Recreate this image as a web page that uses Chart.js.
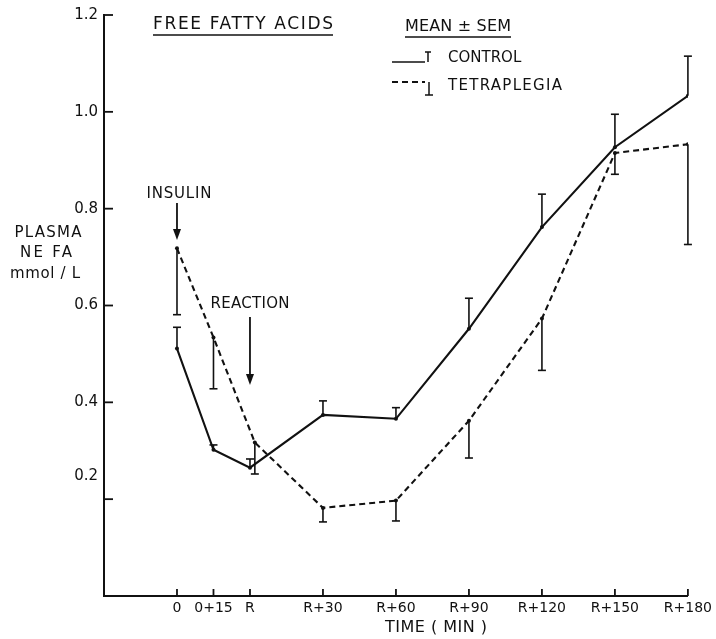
<!DOCTYPE html>
<html>
<head>
<meta charset="utf-8">
<script src="https://cdn.jsdelivr.net/npm/chart.js@4/dist/chart.umd.min.js"></script>
<style>
  html, body { margin: 0; padding: 0; background: #ffffff; }
  #wrap { width: 716px; height: 639px; }
</style>
</head>
<body>
<div id="wrap"><canvas id="c" width="716" height="639"></canvas></div>
<script>
// ---- data ----
const timeLabels   = ['0', '0+15', 'R', 'R+30', 'R+60', 'R+90', 'R+120', 'R+150', 'R+180'];
const timeMinutes  = [0, 15, 30, 60, 90, 120, 150, 180, 210];
const tetraMinutes = [0, 15, 32, 60, 90, 120, 150, 180, 210];
const controlMean  = [0.511, 0.302, 0.265, 0.374, 0.366, 0.552, 0.762, 0.927, 1.033];
const controlSem   = [0.044, 0.010, 0.018, 0.029, 0.023, 0.063, 0.068, 0.068, 0.082];
const tetraMean    = [0.718, 0.534, 0.317, 0.182, 0.197, 0.362, 0.573, 0.915, 0.933];
const tetraSem     = [0.137, 0.106, 0.065, 0.029, 0.042, 0.077, 0.107, 0.044, 0.207];
const yTicks       = [0.2, 0.4, 0.6, 0.8, 1.0, 1.2];
const yTickLabels  = ['0.2', '0.4', '0.6', '0.8', '1.0', '1.2'];

const FONT = "'DejaVu Sans', 'Liberation Sans', Arial, sans-serif";
const INK = '#111111';

const controlPts = timeMinutes.map((t, i) => ({ x: t, y: controlMean[i] }));
const tetraPts   = tetraMinutes.map((t, i) => ({ x: t, y: tetraMean[i] }));

// draws text, adjusting letter spacing so it spans the given width
function txt(ctx, s, x, y, size, align, width) {
  ctx.save();
  ctx.font = size + 'px ' + FONT;
  ctx.fillStyle = INK;
  ctx.textBaseline = 'middle';
  ctx.textAlign = 'left';
  let sp = 0;
  if ('letterSpacing' in ctx) {
    ctx.letterSpacing = '0px';
    const w0 = ctx.measureText(s).width;
    if (width && s.length > 1) sp = Math.max(0, (width - w0) / (s.length - 1));
    ctx.letterSpacing = sp + 'px';
  }
  const w = ctx.measureText(s).width - sp;
  let x0 = x;
  if (align === 'center') x0 = x - w / 2;
  else if (align === 'right') x0 = x - w;
  ctx.fillText(s, x0, y);
  ctx.restore();
  return { x0: x0, w: w };
}
function line(ctx, x1, y1, x2, y2, w, dash) {
  ctx.save();
  ctx.strokeStyle = INK;
  ctx.lineWidth = w || 1.5;
  ctx.setLineDash(dash || []);
  ctx.beginPath();
  ctx.moveTo(x1, y1);
  ctx.lineTo(x2, y2);
  ctx.stroke();
  ctx.restore();
}
function arrow(ctx, x, y1, y2) {
  line(ctx, x, y1, x, y2 - 6, 1.8);
  ctx.save();
  ctx.fillStyle = INK;
  ctx.beginPath();
  ctx.moveTo(x - 4, y2 - 11);
  ctx.lineTo(x + 4, y2 - 11);
  ctx.lineTo(x, y2);
  ctx.closePath();
  ctx.fill();
  ctx.restore();
}

const decor = {
  id: 'decor',
  afterDatasetsDraw(chart) {
    const ctx = chart.ctx;
    const xs = chart.scales.x, ys = chart.scales.y;
    const a = chart.chartArea;

    // inward tick marks
    yTicks.forEach(v => {
      const y = ys.getPixelForValue(v);
      line(ctx, a.left, y, a.left + 9, y, 1.8);
    });
    timeMinutes.forEach(t => {
      const x = xs.getPixelForValue(t);
      line(ctx, x, a.bottom, x, a.bottom - 7, 1.8);
    });
    // "0.2" label sits above its tick in the reference
    txt(ctx, '0.2', a.left - 6, ys.getPixelForValue(0.248), 15, 'right');

    // error bars
    const bar = (t, m, s, dir) => {
      const x = xs.getPixelForValue(t);
      const y0 = ys.getPixelForValue(m);
      const y1 = ys.getPixelForValue(m + dir * s);
      line(ctx, x, y0, x, y1, 1.6);
      line(ctx, x - 4, y1, x + 4, y1, 1.6);
    };
    timeMinutes.forEach((t, i) => bar(t, controlMean[i], controlSem[i], 1));
    tetraMinutes.forEach((t, i) => bar(t, tetraMean[i], tetraSem[i], -1));

    // title
    const t1 = txt(ctx, 'FREE FATTY ACIDS', 153, 25, 17, 'left', 180);
    line(ctx, t1.x0, 35, t1.x0 + t1.w, 35, 1.5);

    // legend
    const t2 = txt(ctx, 'MEAN \u00B1 SEM', 405, 27, 16, 'left', 106);
    line(ctx, t2.x0, 37, t2.x0 + t2.w, 37, 1.5);
    line(ctx, 392, 62, 425, 62, 1.6);
    line(ctx, 428, 52, 428, 62, 1.5);
    line(ctx, 425, 52, 431, 52, 1.5);
    txt(ctx, 'CONTROL', 448, 58, 15, 'left', 72);
    line(ctx, 392, 82, 425, 82, 1.8, [6, 4]);
    line(ctx, 429, 82, 429, 95, 1.5);
    line(ctx, 425, 95, 433, 95, 1.5);
    txt(ctx, 'TETRAPLEGIA', 448, 86, 15, 'left', 114);

    // annotations
    const xi = xs.getPixelForValue(0);
    txt(ctx, 'INSULIN', xi + 2, 194, 15, 'center', 65);
    arrow(ctx, xi, 203, 240);
    const xr = xs.getPixelForValue(30);
    txt(ctx, 'REACTION', xr, 304, 15, 'center', 79);
    arrow(ctx, xr, 317, 385);

    // y axis title
    txt(ctx, 'PLASMA', 48, 233, 15, 'center', 67);
    txt(ctx, 'NE FA', 46, 253, 15, 'center', 52);
    txt(ctx, 'mmol / L', 45, 274, 15, 'center', 70);

    // x axis title
    txt(ctx, 'TIME ( MIN )', 436, 628, 16, 'center', 102);
  }
};

new Chart(document.getElementById('c'), {
  type: 'line',
  data: {
    datasets: [
      {
        label: 'CONTROL',
        data: controlPts,
        borderColor: INK,
        backgroundColor: INK,
        borderWidth: 2.1,
        pointRadius: 2,
        pointBorderWidth: 0,
        tension: 0
      },
      {
        label: 'TETRAPLEGIA',
        data: tetraPts,
        borderColor: INK,
        backgroundColor: INK,
        borderWidth: 2.1,
        borderDash: [6, 4],
        pointRadius: 2,
        pointBorderWidth: 0,
        tension: 0
      }
    ]
  },
  options: {
    responsive: false,
    animation: false,
    layout: { padding: { top: 15, right: 26, bottom: 0, left: 0 } },
    plugins: { legend: { display: false }, tooltip: { enabled: false }, title: { display: false } },
    scales: {
      x: {
        type: 'linear',
        min: -30,
        max: 210,
        afterFit(scale) { scale.height = 43; },
        afterBuildTicks(scale) { scale.ticks = timeMinutes.map(v => ({ value: v })); },
        ticks: {
          autoSkip: false,
          maxRotation: 0,
          padding: 4,
          color: INK,
          font: { family: FONT, size: 14 },
          callback: (v) => { const i = timeMinutes.indexOf(v); return i >= 0 ? timeLabels[i] : ''; }
        },
        grid: { drawOnChartArea: false, drawTicks: false },
        border: { color: INK, width: 2 }
      },
      y: {
        min: 0,
        max: 1.2,
        afterFit(scale) { scale.width = 104; },
        afterBuildTicks(scale) { scale.ticks = yTicks.map(v => ({ value: v })); },
        ticks: {
          autoSkip: false,
          padding: 6,
          color: INK,
          font: { family: FONT, size: 15 },
          callback: (v) => { const i = yTicks.findIndex(t => Math.abs(t - v) < 1e-9); return (i >= 0 && yTicks[i] !== 0.2) ? yTickLabels[i] : ''; }
        },
        grid: { drawOnChartArea: false, drawTicks: false },
        border: { color: INK, width: 2 }
      }
    }
  },
  plugins: [decor]
});
</script>
</body>
</html>
